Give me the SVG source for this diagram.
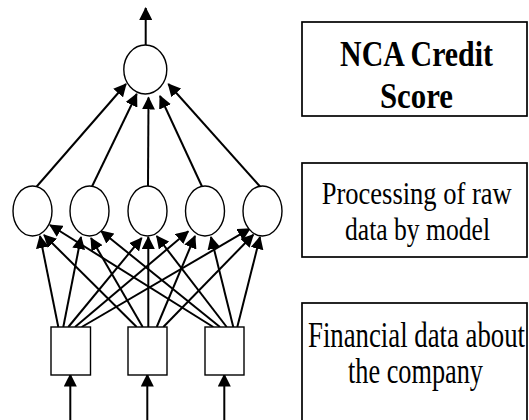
<svg xmlns="http://www.w3.org/2000/svg" width="529" height="420" viewBox="0 0 529 420">
<style>
.node{fill:#fff;stroke:#000;stroke-width:1.4}
.lbl{fill:#fff;stroke:#000;stroke-width:1.7}
.c line{stroke:#000;stroke-width:2;marker-end:url(#ah)}
.t{font-family:"Liberation Serif","Times New Roman",serif;font-size:35px;fill:#000;text-anchor:middle}
.s{font-size:32px}
.b{font-weight:bold}
</style>
<defs>
<marker id="ah" markerUnits="userSpaceOnUse" markerWidth="13" markerHeight="13" refX="12" refY="6.5" orient="auto" viewBox="0 0 13 13">
<path d="M0,0 L13,6.5 L0,13 z" fill="#000"/>
</marker>
</defs>
<rect width="529" height="420" fill="#fff"/>
<g class="c" id="connectors">
<line x1="145.7" y1="45" x2="145.7" y2="8"/>
<line x1="36.7" y1="186.5" x2="126" y2="84"/>
<line x1="92" y1="186.5" x2="136.7" y2="94"/>
<line x1="148" y1="186" x2="148.5" y2="97.5"/>
<line x1="202" y1="186.5" x2="160" y2="96"/>
<line x1="260" y1="186.5" x2="168.3" y2="84"/>
<line x1="58.3" y1="327" x2="40" y2="236"/>
<line x1="63.3" y1="327" x2="81" y2="237"/>
<line x1="68.3" y1="327" x2="141.7" y2="238"/>
<line x1="75" y1="327" x2="188.3" y2="231.3"/>
<line x1="81.7" y1="327" x2="250" y2="228.7"/>
<line x1="136.7" y1="327" x2="44" y2="235"/>
<line x1="142.7" y1="327" x2="91" y2="238"/>
<line x1="148.3" y1="327" x2="148.3" y2="237"/>
<line x1="156.7" y1="327" x2="195" y2="236"/>
<line x1="163.3" y1="327" x2="253.3" y2="234.7"/>
<line x1="213.3" y1="327" x2="50" y2="225"/>
<line x1="220" y1="327" x2="101" y2="231"/>
<line x1="226.7" y1="327" x2="156.7" y2="236"/>
<line x1="233.3" y1="327" x2="211" y2="237"/>
<line x1="237.3" y1="327" x2="260" y2="237"/>
<line x1="70.3" y1="420" x2="70.3" y2="374.5"/>
<line x1="147.3" y1="420" x2="147.3" y2="374.5"/>
<line x1="224.3" y1="420" x2="224.3" y2="374.5"/>
</g>
<g id="output"><ellipse class="node" cx="145.3" cy="69.5" rx="21.5" ry="24.5"/></g>
<g id="h1"><ellipse class="node" cx="32.5" cy="211" rx="19.5" ry="25"/></g>
<g id="h2"><ellipse class="node" cx="89.5" cy="211" rx="19.5" ry="25"/></g>
<g id="h3"><ellipse class="node" cx="147.5" cy="211" rx="19.5" ry="25"/></g>
<g id="h4"><ellipse class="node" cx="205" cy="211" rx="19.5" ry="25"/></g>
<g id="h5"><ellipse class="node" cx="262.5" cy="211" rx="19.5" ry="25"/></g>
<g id="in1"><rect class="node" x="51" y="327" width="39.5" height="48"/></g>
<g id="in2"><rect class="node" x="128" y="327" width="39" height="48"/></g>
<g id="in3"><rect class="node" x="205" y="327" width="39" height="48"/></g>
<g id="label-score">
<rect class="lbl" x="302" y="22" width="225" height="94"/>
<text class="t b" transform="translate(416.5,66) scale(0.84,1)" textLength="182" lengthAdjust="spacingAndGlyphs">NCA Credit</text>
<text class="t b" transform="translate(416.5,108) scale(0.87,1)" textLength="84" lengthAdjust="spacingAndGlyphs">Score</text>
</g>
<g id="label-processing">
<rect class="lbl" x="302" y="163" width="225" height="94"/>
<text class="t s" transform="translate(416.7,203.5) scale(0.82,1)" textLength="231.7" lengthAdjust="spacingAndGlyphs">Processing of raw</text>
<text class="t s" transform="translate(417.5,239.5) scale(0.8,1)" textLength="181.3" lengthAdjust="spacingAndGlyphs">data by model</text>
</g>
<g id="label-financial">
<rect class="lbl" x="302" y="303" width="225" height="130"/>
<text class="t" transform="translate(416.5,347) scale(0.765,1)" textLength="283.7" lengthAdjust="spacingAndGlyphs">Financial data about</text>
<text class="t" transform="translate(415.5,383) scale(0.75,1)" textLength="180" lengthAdjust="spacingAndGlyphs">the company</text>
</g>
</svg>
